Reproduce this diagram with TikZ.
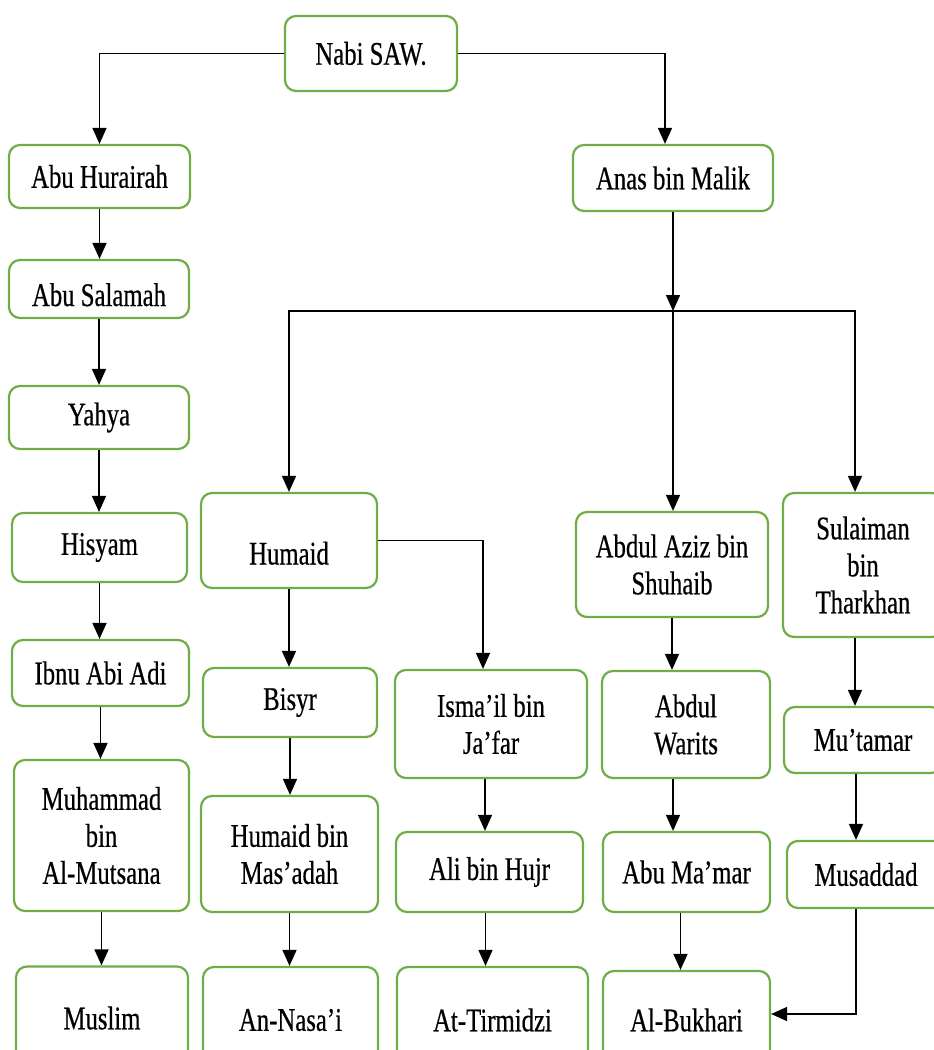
\documentclass[tikz,border=0pt]{standalone}
\usepackage{fontspec}
\setmainfont{Liberation Serif}[FakeStretch=0.75, FakeBold=0.5]
\usetikzlibrary{arrows.meta}
\definecolor{boxgreen}{RGB}{112,173,71}
\tikzset{
  person/.style={draw=boxgreen, line width=2.2pt, rounded corners=11pt,
    align=center, inner sep=2pt, font=\fontsize{33}{37}\selectfont},
  link/.style={draw=black, line width=1.5pt, -{Triangle[width=14pt,length=16pt]}},
}
\begin{document}
\begin{tikzpicture}[x=1pt, y=-1pt]
    \useasboundingbox (0,0) rectangle (934,1050);
    \clip (0,0) rectangle (934,1050);
    % top
    \node[person, minimum width=172pt, minimum height=75pt] (nabi) at (371,53.5) {Nabi SAW.};
    \node[person, minimum width=181pt, minimum height=63pt] (hurairah) at (99.5,176.5) {Abu Hurairah};
    \node[person, minimum width=200pt, minimum height=66pt] (anas) at (673,178) {Anas bin Malik};
    % left column
    \node[person, minimum width=180pt, minimum height=58pt, text height=34pt, text depth=0pt] (salamah) at (99,289) {Abu Salamah};
    \node[person, minimum width=180pt, minimum height=63pt] (yahya) at (99,417.5) {Yahya};
    \node[person, minimum width=175pt, minimum height=69pt] (hisyam) at (99.5,547.5) {Hisyam};
    \node[person, minimum width=177pt, minimum height=66pt] (ibnu) at (100.5,673) {Ibnu Abi Adi};
    \node[person, minimum width=175pt, minimum height=151pt] (mutsana) at (101.5,835.5) {Muhammad\\ bin\\ Al-Mutsana};
    \node[person, minimum width=172pt, minimum height=103pt] (muslim) at (102,1018) {Muslim};
    % Humaid branch
    \node[person, minimum width=176pt, minimum height=95pt, text height=48pt, text depth=0pt] (humaid) at (289,540.5) {Humaid};
    \node[person, minimum width=174pt, minimum height=69pt] (bisyr) at (290,702.5) {Bisyr};
    \node[person, minimum width=177pt, minimum height=116pt] (masadah) at (289.5,854) {Humaid bin\\ Mas’adah};
    \node[person, minimum width=175pt, minimum height=106pt] (nasai) at (290.5,1020) {An-Nasa’i};
    \node[person, minimum width=192pt, minimum height=108pt] (ismail) at (491,724) {Isma’il bin\\ Ja’far};
    \node[person, minimum width=187pt, minimum height=80pt] (alihujr) at (489.5,872) {Ali bin Hujr};
    \node[person, minimum width=191pt, minimum height=106pt] (tirmidzi) at (492.5,1020) {At-Tirmidzi};
    % Abdul Aziz branch
    \node[person, minimum width=192pt, minimum height=105pt] (aziz) at (672,564.5) {Abdul Aziz bin\\ Shuhaib};
    \node[person, minimum width=168pt, minimum height=107pt] (warits) at (686,724.5) {Abdul\\ Warits};
    \node[person, minimum width=167pt, minimum height=80pt] (mamar) at (686.5,872) {Abu Ma’mar};
    \node[person, minimum width=167pt, minimum height=98pt] (bukhari) at (686.5,1020) {Al-Bukhari};
    % Sulaiman branch
    \node[person, minimum width=160pt, minimum height=144pt] (sulaiman) at (863,565) {Sulaiman\\ bin\\ Tharkhan};
    \node[person, minimum width=158pt, minimum height=66pt] (mutamar) at (863,740) {Mu’tamar};
    \node[person, minimum width=158pt, minimum height=67pt] (musaddad) at (866,874.5) {Musaddad};

    \coordinate (split) at (673,311);

    % connectors
    \draw[link] (nabi.west) -| (hurairah.north);
    \draw[link] (nabi.east) -| ([xshift=-8pt]anas.north);
    \draw[link] (hurairah.south) -- (hurairah.south |- salamah.north);
    \draw[link] (salamah.south) -- (salamah.south |- yahya.north);
    \draw[link] (yahya.south) -- (yahya.south |- hisyam.north);
    \draw[link] (hisyam.south) -- (hisyam.south |- ibnu.north);
    \draw[link] (ibnu.south) -- (ibnu.south |- mutsana.north);
    \draw[link] (mutsana.south) -- (mutsana.south |- muslim.north);
    \draw[link] (anas.south) -- (split);
    \draw[link] (split) -| (humaid.north);
    \draw[link] (split) -- (split |- aziz.north);
    \draw[link] (split) -| ([xshift=-8pt]sulaiman.north);
    \draw[link] (humaid.south) -- (humaid.south |- bisyr.north);
    \draw[link] (bisyr.south) -- (bisyr.south |- masadah.north);
    \draw[link] (masadah.south) -- (masadah.south |- nasai.north);
    \draw[link] (humaid.east) -| ([xshift=-8pt]ismail.north);
    \draw[link] ([xshift=-6pt]ismail.south) -- ([xshift=-6pt]ismail.south |- alihujr.north);
    \draw[link] ([xshift=-4pt]alihujr.south) -- ([xshift=-4pt]alihujr.south |- tirmidzi.north);
    \draw[link] (aziz.south) -- (aziz.south |- warits.north);
    \draw[link] ([xshift=-13pt]warits.south) -- ([xshift=-13pt]warits.south |- mamar.north);
    \draw[link] ([xshift=-6pt]mamar.south) -- ([xshift=-6pt]mamar.south |- bukhari.north);
    \draw[link] ([xshift=-8pt]sulaiman.south) -- ([xshift=-8pt]sulaiman.south |- mutamar.north);
    \draw[link] ([xshift=-7pt]mutamar.south) -- ([xshift=-7pt]mutamar.south |- musaddad.north);
    \draw[link] ([xshift=-10pt]musaddad.south) |- ([yshift=6pt]bukhari.east);
\end{tikzpicture}
\end{document}
